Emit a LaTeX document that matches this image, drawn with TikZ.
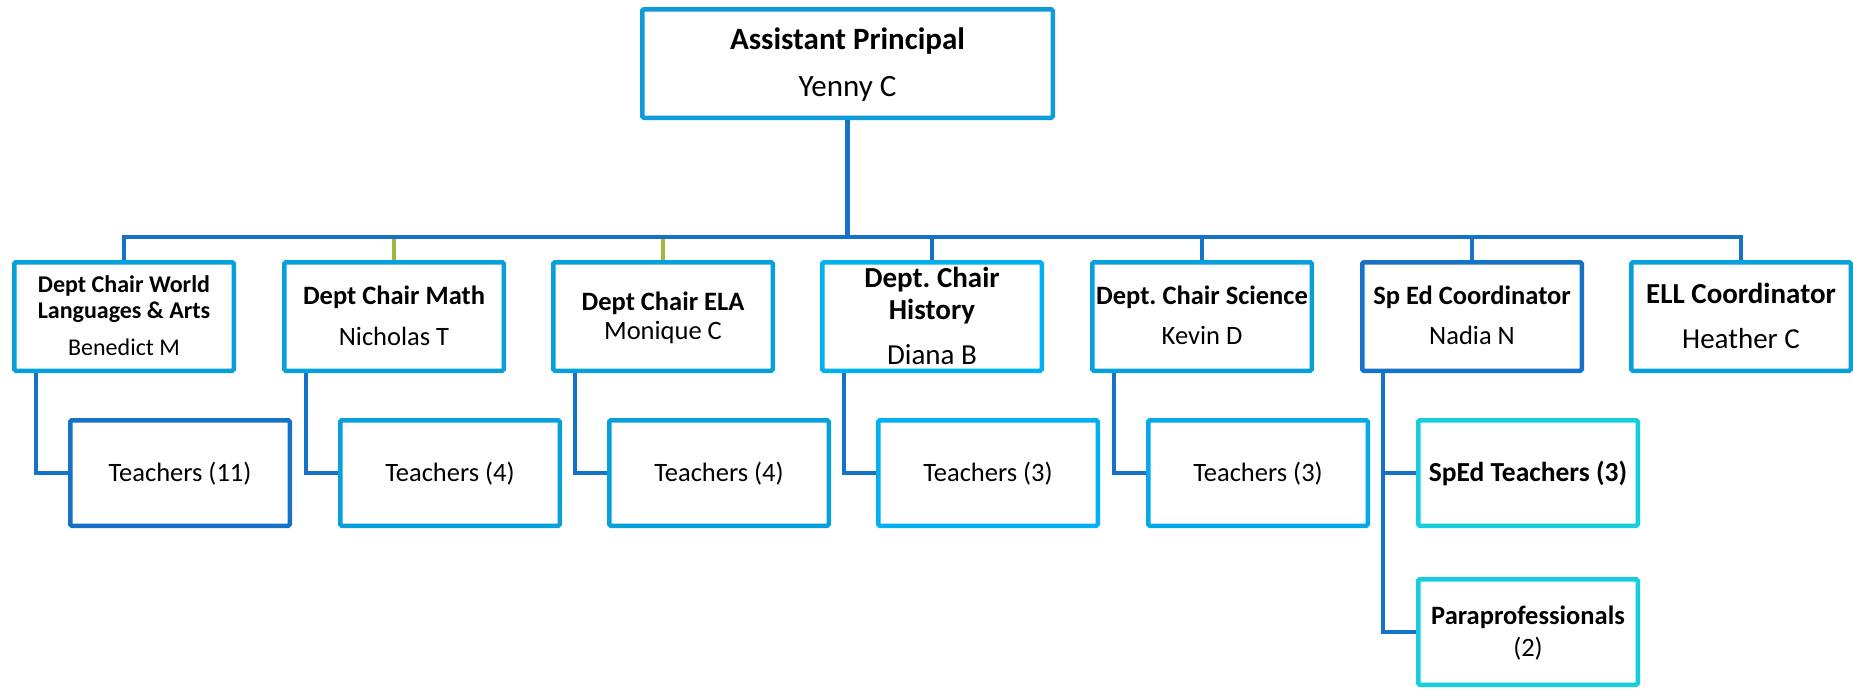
\documentclass[tikz,border=0pt]{standalone}
\usepackage{fontspec}
\setmainfont{Carlito}
\usetikzlibrary{calc}
\definecolor{cTop}{RGB}{14,156,216}
\definecolor{cMid}{RGB}{8,160,218}
\definecolor{cBright}{RGB}{0,176,240}
\definecolor{cSci}{RGB}{4,170,232}
\definecolor{cDark}{RGB}{22,114,198}
\definecolor{cTeal}{RGB}{22,206,220}
\definecolor{cGreen}{RGB}{156,187,60}
\frenchspacing
\begin{document}
\begin{tikzpicture}[x=1pt,y=-1pt,
  box/.style={draw, line width=4.5pt, rounded corners=1.5pt, rectangle, minimum width=219.5pt, align=center, text depth=0pt, inner sep=0pt, fill=white},
  rowbox/.style={box, minimum height=108.5pt},
  kidbox/.style={box, minimum height=105.5pt},
  conn/.style={draw=cDark, line width=4.2pt},
  fs/.style 2 args={font=\fontsize{#1}{#2}\selectfont\frenchspacing}
]
\useasboundingbox (0,0) rectangle (1853,689);

% top
\node[box, draw=cTop, minimum width=410.5pt, minimum height=108.5pt, fs={31}{47}, text height=66.6pt] (ap) at (847.5,63.5) {{\bfseries Assistant Principal}\\Yenny C};

% row 1
\node[rowbox, draw=cMid, fs={24}{25.8}, text height=78pt] (b1) at (124,316.5) {{\bfseries Dept Chair World}\\{\bfseries Languages \& Arts}\\[11.2pt]{Benedict M}};
\node[rowbox, draw=cMid, fs={26.5}{40.6}, text height=57.4pt] (b2) at (394,316.5) {{\bfseries Dept Chair Math}\\{Nicholas T}};
\node[rowbox, draw=cMid, fs={26.5}{29.5}, text height=46.3pt] (b3) at (663,316.5) {{\bfseries Dept Chair ELA}\\{Monique C}};
\node[rowbox, draw=cBright, fs={29}{32.5}, text height=95.1pt] (b4) at (932,316.5) {{\bfseries Dept. Chair}\\{\bfseries History}\\[11.8pt]{Diana B}};
\node[rowbox, draw=cMid, fs={26.5}{40}, text height=56.8pt] (b5) at (1202,316.5) {{\bfseries Dept. Chair Science}\\{Kevin D}};
\node[rowbox, draw=cDark, fs={26.5}{40}, text height=56.8pt] (b6) at (1472,316.5) {{\bfseries Sp Ed Coordinator}\\{Nadia N}};
\node[rowbox, draw=cMid, fs={29}{45}, text height=63.3pt] (b7) at (1741,316.5) {{\bfseries ELL Coordinator}\\{Heather C}};

% children
\node[kidbox, draw=cDark, fs={26.5}{32}, text height=16.8pt] (c1) at (180,473) {Teachers (11)};
\node[kidbox, draw=cMid, fs={26.5}{32}, text height=16.8pt] (c2) at (450,473) {Teachers (4)};
\node[kidbox, draw=cMid, fs={26.5}{32}, text height=16.8pt] (c3) at (719,473) {Teachers (4)};
\node[kidbox, draw=cBright, fs={26.5}{32}, text height=16.8pt] (c4) at (988,473) {Teachers (3)};
\node[kidbox, draw=cSci, fs={26.5}{32}, text height=16.8pt] (c5) at (1258,473) {Teachers (3)};
\node[kidbox, draw=cTeal, fs={27.5}{32}, text height=17.4pt] (spt) at (1528,473) {\bfseries SpEd Teachers (3)};
\node[kidbox, draw=cTeal, fs={26.5}{32}, text height=48.8pt] (para) at (1528,632) {{\bfseries Paraprofessionals}\\{(2)}};

% bus
\coordinate (busL) at (124,237);
\coordinate (busR) at (1741,237);
\draw[conn, draw=cGreen] (b2.north) -- ($(b2.north |- busL)+(0,1)$);
\draw[conn, draw=cGreen] (b3.north) -- ($(b3.north |- busL)+(0,1)$);
\draw[conn] (ap.south) -- (ap.south |- busL);
\draw[conn] (b1.north) |- (busR) -- (b7.north);
\foreach \n in {b4,b5,b6} \draw[conn] (\n.north) -- (\n.north |- busL);

% elbows
\draw[conn] ($(b1.south west)+(24,0)$) |- (c1.west);
\draw[conn] ($(b2.south west)+(24,0)$) |- (c2.west);
\draw[conn] ($(b3.south west)+(24,0)$) |- (c3.west);
\draw[conn] ($(b4.south west)+(24,0)$) |- (c4.west);
\draw[conn] ($(b5.south west)+(24,0)$) |- (c5.west);
\draw[conn] ($(b6.south west)+(23,0)$) |- (para.west);
\draw[conn] ($(b6.south west)+(23,0)$) |- (spt.west);
\end{tikzpicture}
\end{document}
